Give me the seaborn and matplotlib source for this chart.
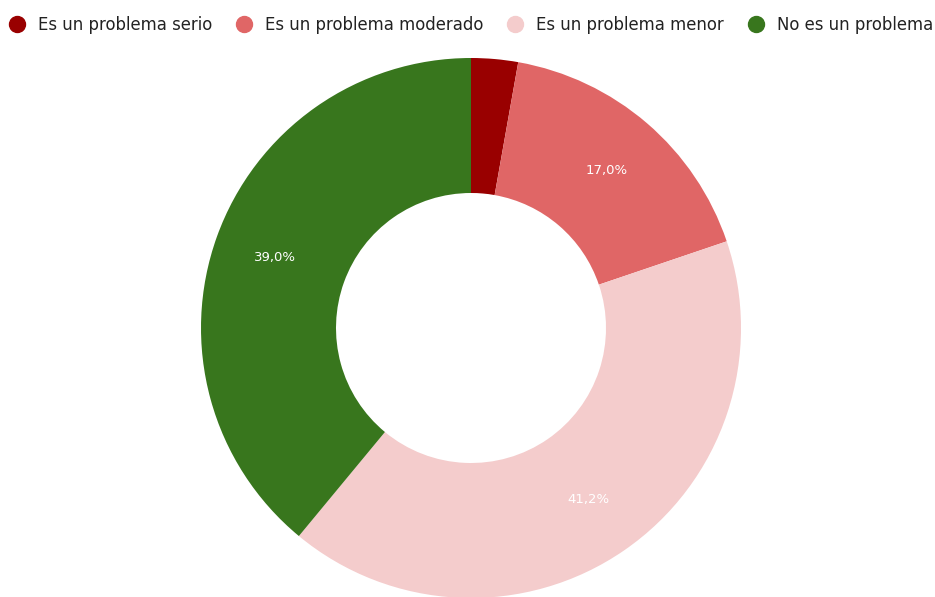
import matplotlib
matplotlib.use("Agg")
import matplotlib.pyplot as plt
from matplotlib.lines import Line2D
import seaborn as sns

categories = ["Es un problema serio", "Es un problema moderado", "Es un problema menor", "No es un problema"]
values = [2.8, 17.0, 41.2, 39.0]
colors = ["#990000", "#E06666", "#F4CCCC", "#38761D"]

sns.set_theme(style="white")
plt.rcParams['font.family'] = ['DejaVu Sans']
palette = sns.color_palette(colors)

W, H = 935, 597
fig = plt.figure(figsize=(W / 100, H / 100), dpi=100)
cx, cy, R = 471, 597 - 328, 270
ax = fig.add_axes([(cx - R) / W, (cy - R) / H, 2 * R / W, 2 * R / H])

def fmt(p):
    return (f"{p:.1f}%".replace(".", ",")) if p >= 5 else ""

wedges, texts, autotexts = ax.pie(
    values, colors=palette, startangle=90, counterclock=False, radius=1,
    autopct=fmt, pctdistance=0.77,
    wedgeprops=dict(width=0.5, linewidth=0),
    textprops=dict(color="white", fontsize=9.5),
)
ax.set_xlim(-1, 1)
ax.set_ylim(-1, 1)
ax.set_aspect("equal")
ax.axis("off")

handles = [Line2D([0], [0], marker="o", linestyle="", markersize=11.5,
                  markerfacecolor=c, markeredgecolor=c) for c in palette]
leg = fig.legend(handles, categories, loc="center", bbox_to_anchor=(0.5 + 4.5 / W, 1 - 25 / H),
                 ncol=4, frameon=False, fontsize=11.9, handlelength=0.7,
                 handletextpad=0.9, columnspacing=1.6, borderaxespad=0.0,
                 borderpad=0.0)
for t in leg.get_texts():
    t.set_color("#222222")

fig.savefig("out.png", dpi=100)
